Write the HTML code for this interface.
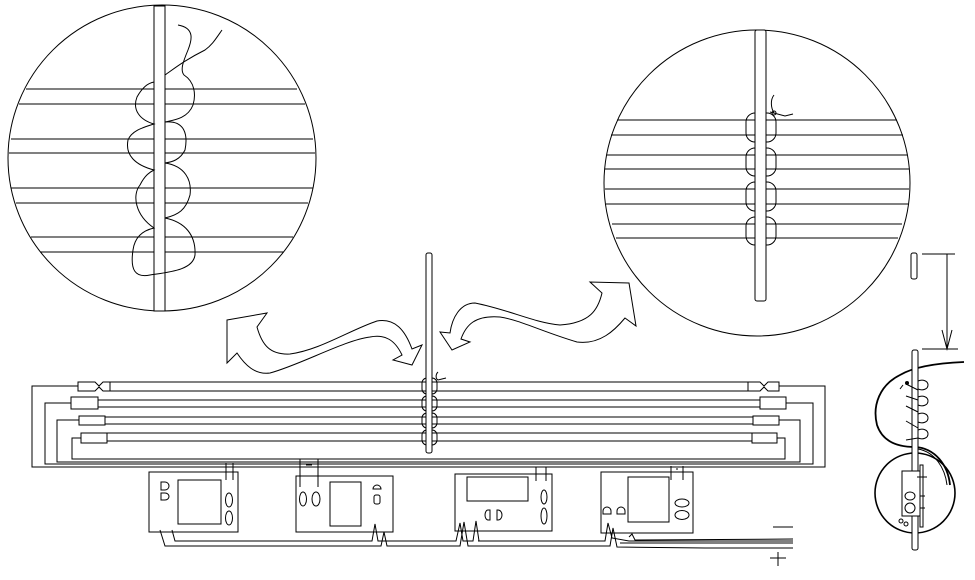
<!DOCTYPE html>
<html><head><meta charset="utf-8"><style>html,body{margin:0;padding:0;background:#fff}svg{display:block}</style></head>
<body>
<svg width="975" height="580" viewBox="0 0 975 580" xmlns="http://www.w3.org/2000/svg" fill="none" stroke="#000" stroke-width="1">
<!-- LEFT CIRCLE -->
<ellipse cx="162" cy="158" rx="154" ry="153"/>
<g>
<line x1="26" y1="89" x2="297" y2="89"/><line x1="19" y1="104" x2="305" y2="104"/>
<line x1="11" y1="139" x2="313" y2="139"/><line x1="9" y1="153" x2="315" y2="153"/>
<line x1="11" y1="188" x2="313" y2="188"/><line x1="16" y1="203" x2="308" y2="203"/>
<line x1="31" y1="237" x2="293" y2="237"/><line x1="40" y1="252" x2="284" y2="252"/>
</g>
<rect x="154" y="6" width="11" height="305" fill="#fff"/>
<path d="M178 25 C195 28 192 40 188 50 C183 62 180 70 184 75 C195 82 196 95 193 105 C188 118 175 120 165 122 C185 120 188 135 185 150 C180 160 172 162 165 163 C185 166 192 180 190 195 C186 210 178 215 165 218 C185 222 196 235 195 255 C193 270 170 272 150 275 C135 278 130 270 133 250 C135 235 145 230 154 228 C135 215 132 195 140 185 C145 175 150 172 154 170 C135 165 125 155 128 140 C132 130 145 127 154 124 C140 120 132 110 137 97 C142 88 148 83 154 82"/>
<path d="M222 30 C215 40 212 45 205 50 C185 60 175 68 165 75"/>
<!-- RIGHT CIRCLE -->
<circle cx="757" cy="183" r="153"/>
<line x1="617" y1="120" x2="897" y2="120"/><line x1="611" y1="135" x2="903" y2="135"/>
<line x1="607" y1="155" x2="907" y2="155"/><line x1="605" y1="169" x2="909" y2="169"/>
<line x1="605" y1="189" x2="909" y2="189"/><line x1="606" y1="204" x2="908" y2="204"/>
<line x1="612" y1="224" x2="902" y2="224"/><line x1="616" y1="238" x2="898" y2="238"/>
<g fill="#fff">
<rect x="746" y="113" width="30" height="29" rx="9"/>
<rect x="746" y="148" width="30" height="28" rx="9"/>
<rect x="746" y="182" width="30" height="29" rx="9"/>
<rect x="746" y="217" width="30" height="28" rx="9"/>
</g>
<line x1="746" y1="120" x2="776" y2="120"/><line x1="746" y1="135" x2="776" y2="135"/>
<line x1="746" y1="155" x2="776" y2="155"/><line x1="746" y1="169" x2="776" y2="169"/>
<line x1="746" y1="189" x2="776" y2="189"/><line x1="746" y1="204" x2="776" y2="204"/>
<line x1="746" y1="224" x2="776" y2="224"/><line x1="746" y1="238" x2="776" y2="238"/>
<rect x="755" y="30" width="11" height="271" rx="2" fill="#fff"/>
<path d="M774 95 C770 100 771 108 774 113"/><circle cx="774" cy="113" r="2"/><path d="M770 112 L785 116 L793 114"/>
<!-- ARROWS -->
<path d="M227 320 L267 313 L257 327 C262 345 270 355 290 354 C320 350 350 330 377 321 C395 318 405 330 412 349 L422 345 L412 365 L393 360 L402 355 C395 340 385 334 370 337 C345 340 300 365 270 373 C255 375 245 365 237 353 L227 363 Z"/>
<path d="M440 332 L452 350 L470 342 L461 339 C466 325 475 315 500 317 C520 320 543 332 577 342 C600 345 615 330 625 318 L636 326 L629 283 L590 282 L602 293 C598 310 590 323 560 325 C535 323 510 310 475 303 C460 303 452 318 450 333 Z"/>
<!-- FRAME WIRES -->
<path d="M78 386 H32 V467 H825 V386 H779"/>
<path d="M71 403 H45 V464 H813 V403 H786"/>
<path d="M79 420 H57 V462 H800 V420 H779"/>
<path d="M81 438 H72 V459 H785 V438 H777"/>
<!-- TUBES -->
<line x1="110" y1="382" x2="748" y2="382"/><line x1="110" y1="391" x2="748" y2="391"/>
<line x1="98" y1="400" x2="760" y2="400"/><line x1="98" y1="407" x2="760" y2="407"/>
<line x1="105" y1="417" x2="753" y2="417"/><line x1="105" y1="424" x2="753" y2="424"/>
<line x1="107" y1="433" x2="752" y2="433"/><line x1="107" y1="441" x2="752" y2="441"/>
<path d="M78 382 H95 L99 386 L103 382 H110 V391 H103 L99 387 L95 391 H78 Z"/>
<path d="M748 382 H760 L764 386 L768 382 H779 V391 H768 L764 387 L760 391 H748 Z"/>
<rect x="71" y="397" width="27" height="12"/><rect x="760" y="397" width="26" height="12"/>
<rect x="79" y="416" width="26" height="9"/><rect x="753" y="416" width="26" height="9"/>
<rect x="81" y="433" width="26" height="10"/><rect x="752" y="433" width="25" height="10"/>
<!-- CENTER ROD -->
<g fill="#fff">
<rect x="422" y="378" width="15" height="16" rx="5"/>
<rect x="422" y="396" width="15" height="15" rx="5"/>
<rect x="422" y="413" width="15" height="15" rx="5"/>
<rect x="422" y="430" width="15" height="15" rx="5"/>
</g>
<line x1="422" y1="382" x2="437" y2="382"/><line x1="422" y1="391" x2="437" y2="391"/>
<line x1="422" y1="400" x2="437" y2="400"/><line x1="422" y1="407" x2="437" y2="407"/>
<line x1="422" y1="417" x2="437" y2="417"/><line x1="422" y1="424" x2="437" y2="424"/>
<line x1="422" y1="433" x2="437" y2="433"/><line x1="422" y1="441" x2="437" y2="441"/>
<rect x="426" y="253" width="6" height="200" rx="2" fill="#fff"/>
<path d="M438 372 C435 375 436 379 438 380 L446 378"/>
<!-- BOXES -->
<rect x="149" y="472" width="89" height="60"/><rect x="178" y="480" width="43" height="44"/>
<ellipse cx="229" cy="500" rx="3.5" ry="7"/><ellipse cx="229" cy="518" rx="3.5" ry="7"/>
<path d="M161 482 h4 a4 4 0 0 1 0 8 h-4 z"/><path d="M161 493 h4 a4 3.5 0 0 1 0 7 h-4 z"/>
<rect x="296" y="476" width="97" height="56"/><rect x="330" y="482" width="31" height="44"/>
<ellipse cx="303" cy="499" rx="3.5" ry="7"/><ellipse cx="316" cy="499" rx="4" ry="7"/>
<path d="M373 489 a4 4 0 0 1 8 0 z"/><rect x="374" y="495" width="6" height="9" rx="2"/>
<rect x="455" y="474" width="97" height="57"/><rect x="467" y="477" width="61" height="24"/>
<path d="M490 510 h-2 a3 5 0 0 0 0 10 h2 z"/><path d="M497 510 h1 a4 5 0 0 1 0 10 h-1 z"/>
<ellipse cx="544" cy="497" rx="3" ry="7"/><ellipse cx="544" cy="516" rx="3" ry="8"/>
<rect x="601" y="472" width="92" height="61"/><rect x="628" y="477" width="41" height="45"/>
<ellipse cx="682" cy="503" rx="7" ry="4"/><ellipse cx="682" cy="515" rx="7" ry="4.5"/>
<path d="M603 514 v-3 a4 4 0 0 1 8 0 v3 z"/><path d="M617 514 v-3 a4 4 0 0 1 8 0 v3 z"/>
<!-- leads -->
<path d="M226 463 V480 M233 463 V480"/>
<path d="M300 459 V487 M318 459 V487"/><path d="M306 462 h6 M306 465 h6"/>
<path d="M536 467 V481 M546 467 V481"/>
<path d="M671 466 V480 M683 466 V480"/><path d="M676 469 h2"/>
<!-- bottom wiring -->
<path d="M160 530 L165 546 H381 L384 532 L387 546 H460 L464 522 L468 546 H610 L613 528 L617 547 L705 548 H793"/>
<path d="M172 530 L175 541 H372 L375 524 L378 541 H456 L460 523 L463 541 H473 L476 521 L479 541 H530"/>
<path d="M478 541 H605 L608 523 L612 538 L629 541 H793"/>
<path d="M629 537 L632 534 L635 540 L793 539"/>
<path d="M620 543 H793"/>
<line x1="773" y1="527" x2="793" y2="527"/>
<path d="M770 558 H786 M778 552 V566"/>
<!-- RIGHT DETAIL -->
<rect x="911" y="253" width="6" height="26" rx="2"/>
<path d="M922 254 H955 M947 254 V349 M942 330 L947 349 L952 330 M922 349 H958"/>
<path d="M964 362 C940 363 915 366 900 375 C880 385 872 405 877 425 C882 440 895 447 915 447 C935 448 948 465 950 485" stroke-width="1.8"/>
<path d="M918 449 C935 452 945 468 947 485" />
<circle cx="915" cy="493" r="40" stroke-width="1.6"/>
<rect x="912" y="350" width="6" height="200" rx="2" fill="#fff"/>
<path d="M918 381 c5 -2 10 0 10 4 c0 4 -5 6 -10 4 z"/><path d="M918 397 c5 -2 10 0 10 4 c0 4 -5 6 -10 4 z"/>
<path d="M918 414 c5 -2 10 0 10 4 c0 4 -5 6 -10 4 z"/><path d="M918 430 c5 -2 10 0 10 4 c0 4 -5 6 -10 4 z"/>
<path d="M906 384 L918 390 M906 396 L918 400 M906 406 L918 412 M906 421 L918 428 M906 440 L918 438"/>
<path d="M903 385 L900 389"/><circle cx="907" cy="383" r="1.5" fill="#000"/>
<rect x="902" y="471" width="19" height="45" fill="#fff"/>
<rect x="920" y="465" width="3" height="62" fill="#fff"/>
<path d="M917 477 H927 M920 496 H925 M920 508 H925"/>
<ellipse cx="910" cy="496" rx="5" ry="4"/><ellipse cx="910" cy="508" rx="5" ry="5"/>
<circle cx="901" cy="521" r="2"/><circle cx="906" cy="524" r="2"/>
</svg>
</body></html>
